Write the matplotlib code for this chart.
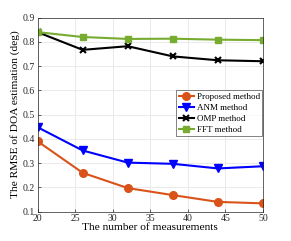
import matplotlib
matplotlib.use("Agg")
import matplotlib.pyplot as plt

x = [20, 26, 32, 38, 44, 50]
proposed = [0.39, 0.26, 0.197, 0.168, 0.140, 0.134]
anm = [0.448, 0.352, 0.302, 0.297, 0.278, 0.287]
omp = [0.840, 0.767, 0.782, 0.740, 0.724, 0.720]
fft = [0.840, 0.820, 0.812, 0.813, 0.809, 0.807]
labels = ["Proposed method", "ANM method", "OMP method", "FFT method"]

plt.rcParams['font.family'] = ['Liberation Serif', 'DejaVu Serif']

fig = plt.figure(figsize=(2.91, 2.41), dpi=100)
ax = fig.add_axes([0.129, 0.122, 0.775, 0.805])

ax.plot(x, proposed, '-o', color='#D95319', lw=1.5, ms=5.5, label=labels[0])
ax.plot(x, anm, '-v', color='blue', lw=1.5, ms=6, label=labels[1])
ax.plot(x, omp, '-x', color='black', lw=1.5, ms=4, mew=1.5, label=labels[2])
ax.plot(x, fft, '-s', color='#77AC30', lw=1.5, ms=5, label=labels[3])

ax.set_xlim(20, 50)
ax.set_ylim(0.1, 0.9)
ax.set_xticks([20, 25, 30, 35, 40, 45, 50])
ax.set_yticks([0.1, 0.2, 0.3, 0.4, 0.5, 0.6, 0.7, 0.8, 0.9])
ax.set_yticklabels(['0.1', '0.2', '0.3', '0.4', '0.5', '0.6', '0.7', '0.8', '0.9'])
ax.grid(True, color='#e6e6e6', lw=0.6)
ax.set_axisbelow(True)
ax.tick_params(labelsize=7, length=2, width=0.5, direction='in', colors='#262626', pad=2)
for s in ax.spines.values():
    s.set_linewidth(0.5)
    s.set_color('#262626')
ax.set_xlabel('The number of measurements', fontsize=8.2, labelpad=0)
ax.set_ylabel('The RMSE of DOA estimation (deg)', fontsize=8.2, labelpad=2)

leg = ax.legend(loc='upper right', bbox_to_anchor=(1.0, 0.63), fontsize=6.5,
                frameon=True, fancybox=False, edgecolor='#262626', borderpad=0.25,
                labelspacing=0.3, handlelength=1.7, handletextpad=0.3, borderaxespad=0.1)
leg.get_frame().set_linewidth(0.5)

fig.savefig('out.png', dpi=100)
